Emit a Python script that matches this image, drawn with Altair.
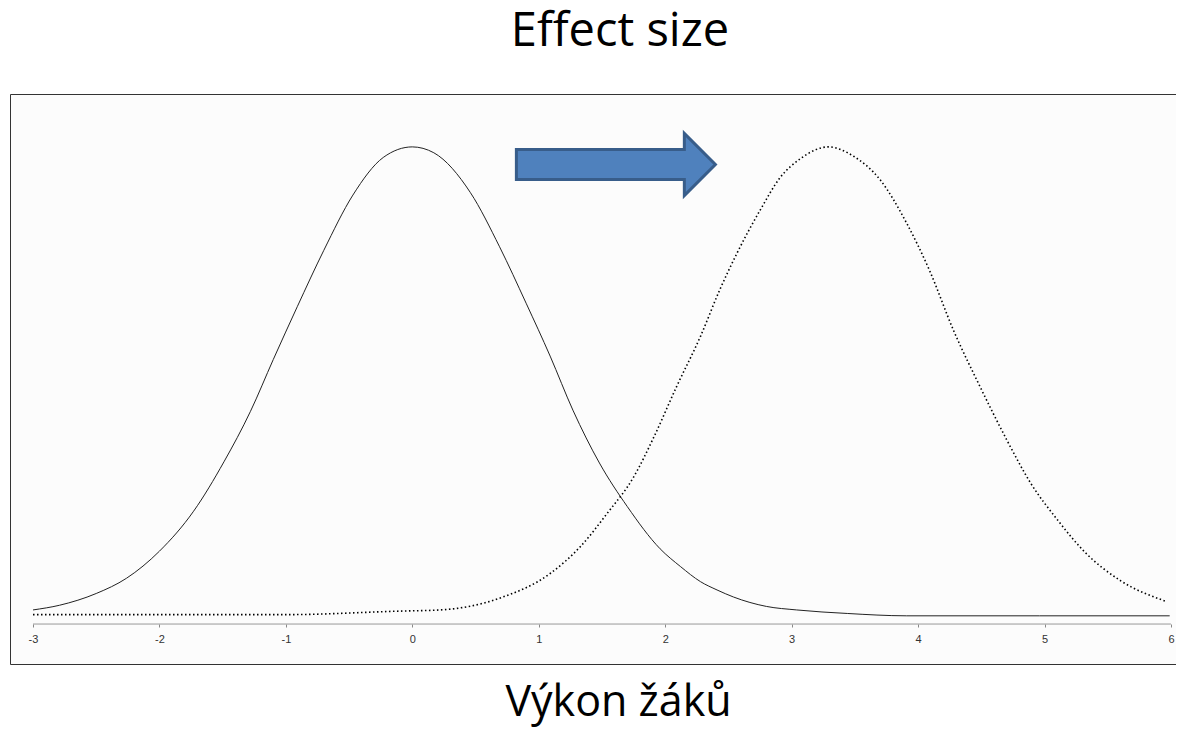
import altair as alt
import pandas as pd

# ---- data ----
ticks = [-3, -2, -1, 0, 1, 2, 3, 4, 5, 6]

# solid curve (before)
solid_x = [-3.00, -2.79, -2.50, -2.26, -2.00, -1.73, -1.49, -1.28, -1.10, -0.91,
           -0.70, -0.47, -0.23, 0.00, 0.17, 0.46, 0.69, 0.90, 1.09, 1.27,
           1.48, 1.70, 1.96, 2.12, 2.28, 2.41, 2.54, 2.80, 3.04, 3.44,
           3.91, 4.96, 5.99]
solid_y = [0.006, 0.010, 0.020, 0.033, 0.056, 0.090, 0.132, 0.175, 0.219, 0.264,
           0.312, 0.359, 0.391, 0.400, 0.395, 0.361, 0.315, 0.267, 0.222, 0.176,
           0.131, 0.094, 0.058, 0.043, 0.030, 0.023, 0.017, 0.009, 0.006, 0.003,
           0.001, 0.001, 0.001]

# dotted curve (after)
dotted_x = [-3.00, -1.00, -0.10, 0.22, 0.69, 1.09, 1.33, 1.54, 1.75, 1.91,
            2.09, 2.28, 2.43, 2.57, 2.75, 2.91, 3.07, 3.29, 3.49, 3.70,
            3.91, 4.09, 4.28, 4.49, 4.70, 4.89, 5.10, 5.33, 5.60, 5.97]
dotted_y = [0.002, 0.002, 0.005, 0.006, 0.016, 0.037, 0.060, 0.088, 0.119, 0.153,
            0.196, 0.239, 0.278, 0.310, 0.346, 0.374, 0.390, 0.400, 0.392, 0.372,
            0.335, 0.295, 0.244, 0.196, 0.151, 0.114, 0.083, 0.054, 0.031, 0.013]

# arrow annotation (centre, in data units)
arrow_x = [1.61]
arrow_y = [0.385]

# axis line
axis_from = [-3]
axis_to = [6]
axis_level = [-0.006]

title_text = "Effect size"
xlabel_text = "Výkon žáků"

# ---- tables ----
solid_df = pd.DataFrame({"x": solid_x, "y": solid_y})
dotted_df = pd.DataFrame({"x": dotted_x, "y": dotted_y})
arrow_df = pd.DataFrame({"x": arrow_x, "y": arrow_y})
axis_df = pd.DataFrame({"x": axis_from, "xe": axis_to, "y": axis_level})

x_scale = alt.Scale(domain=[-3.182, 6.040], nice=False, zero=False)
y_scale = alt.Scale(domain=[-0.040, 0.445], nice=False, zero=False)

x_axis = alt.Axis(
    values=ticks, domain=False, grid=False,
    tickSize=3, tickColor="#888888", tickWidth=1,
    labelFont="Liberation Sans", labelFontSize=11, labelColor="#333333",
    labelPadding=6, labelExpr="toString(datum.value)",
    offset=-40,
    title=xlabel_text, titleFont="Open Sans", titleFontSize=43,
    titleFontWeight="normal", titleColor="#000000",
    titleX=608, titleY=91, titleAlign="center", titleBaseline="alphabetic",
)

solid = alt.Chart(solid_df).mark_line(
    color="#222222", strokeWidth=1, interpolate="monotone"
).encode(
    x=alt.X("x:Q", scale=x_scale, axis=x_axis),
    y=alt.Y("y:Q", scale=y_scale, axis=None),
)

dotted = alt.Chart(dotted_df).mark_line(
    color="#000000", strokeWidth=1.6, strokeDash=[1.5, 2.5], interpolate="monotone"
).encode(
    x=alt.X("x:Q"),
    y=alt.Y("y:Q"),
)

axis_line = alt.Chart(axis_df).mark_rule(color="#999999", strokeWidth=1).encode(
    x=alt.X("x:Q"),
    x2=alt.X2("xe:Q"),
    y=alt.Y("y:Q"),
)

ARROW_PATH = ("M -1 -0.151 L 0.688 -0.151 L 0.688 -0.312 L 1 0 "
              "L 0.688 0.312 L 0.688 0.151 L -1 0.151 Z")

arrow = alt.Chart(arrow_df).mark_point(
    shape=ARROW_PATH, size=39601, filled=True, fill="#4F81BD",
    stroke="#385D8A", strokeWidth=3, opacity=1,
).encode(
    x=alt.X("x:Q"),
    y=alt.Y("y:Q"),
)

chart = alt.layer(solid, dotted, axis_line, arrow).properties(
    width=1166,
    height=570,
    autosize=alt.AutoSizeParams(type="none"),
    padding={"left": 2, "top": 86, "right": 0, "bottom": 64},
    background="white",
    title=alt.TitleParams(
        title_text, font="Open Sans", fontSize=47, fontWeight="normal",
        color="#000000", anchor="middle", dx=27, offset=38,
    ),
).configure_view(
    fill="#fcfcfc", stroke="#333333", strokeWidth=1
)

chart.save("out.html", embed_options={"renderer": "svg", "actions": False})
